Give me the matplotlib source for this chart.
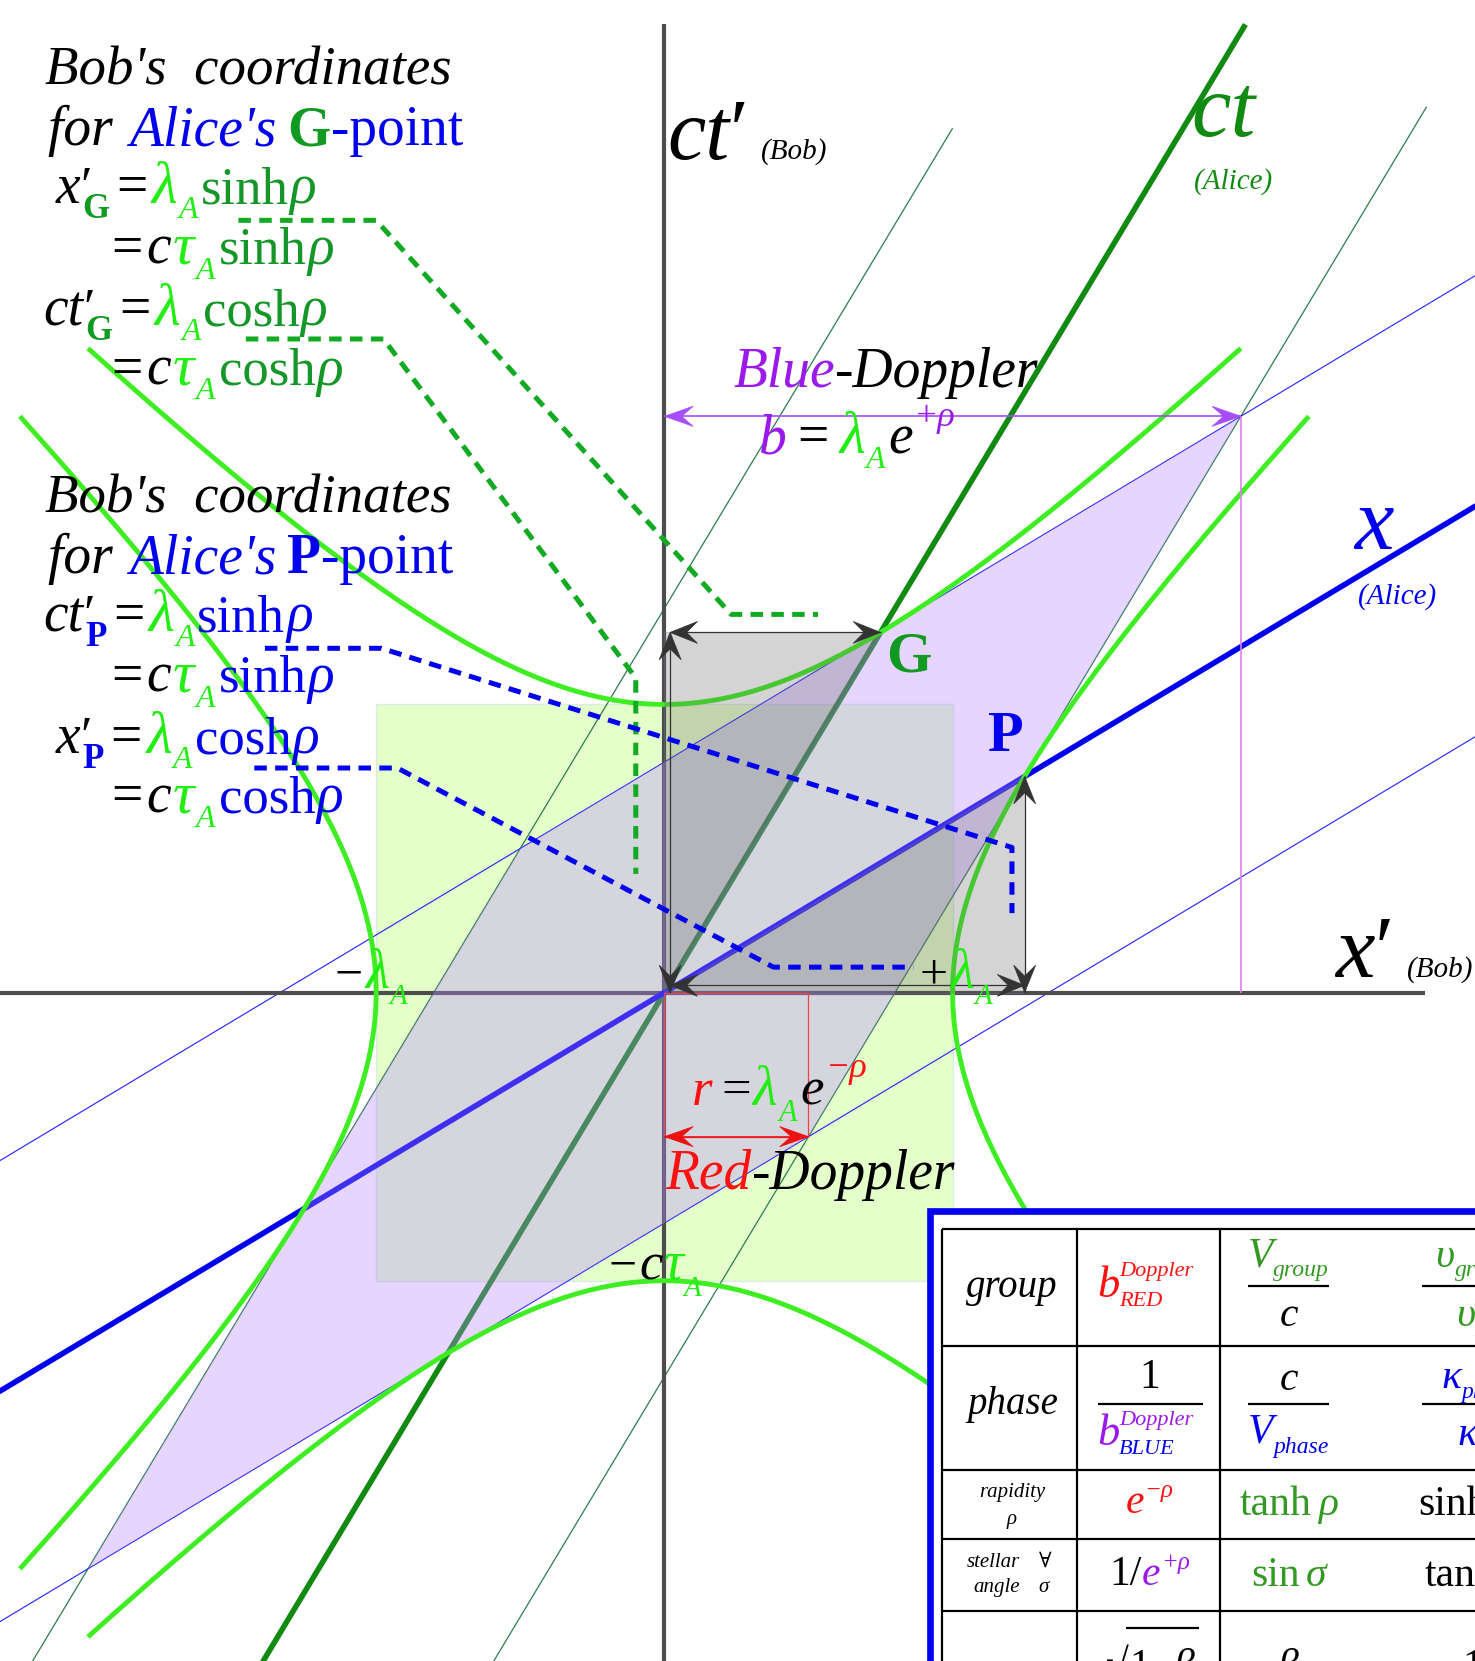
import numpy as np
import matplotlib
matplotlib.use("Agg")
import matplotlib.pyplot as plt
from matplotlib.patches import Polygon, Rectangle

plt.rcParams["lines.scale_dashes"] = False
plt.rcParams["lines.solid_capstyle"] = "butt"

# ---------------- values ----------------
beta = 0.6                       # Alice's speed relative to Bob (v/c)
lambda_A = 1.0                   # Alice's wavelength, c*tau_A
rho = np.arctanh(beta)           # rapidity
gam = np.cosh(rho)
hyperbola_reach = 2.0            # branches stop where the free coordinate reaches 2*lambda_A
alice_grid = [-1.0, 1.0]         # Alice's grid lines x = +-lambda_A, ct = +-lambda_A
world_line_top = [3.0, 1.86]     # Alice time where her x = -lambda_A, +lambda_A lines stop
bob_box = [-1.0, 1.0]            # Bob's +-lambda_A box
axis_top = 3.36                  # top of ct' axis and of Alice's ct axis
axis_right = 2.64                # right end of x' axis


def to_bob(x_a, ct_a):
    """Lorentz boost of Alice's coordinates into Bob's (x', ct')."""
    x_a = np.asarray(x_a, float)
    ct_a = np.asarray(ct_a, float)
    return gam * (x_a + beta * ct_a), gam * (ct_a + beta * x_a)


# ---------------- page layout ----------------
W, H, DPI = 1475, 1661, 100
FW, FH = 1392, 1568               # layout frame
SC = W / FW
OX, OY, UNIT = 627, 937, 272      # diagram origin and lambda_A length in the layout frame

K = "black"
BLUE = "#0000ee"
DKG = "#149628"
BRG = "#22ee11"
GBOLD = "#119922"
ALICE_CT = "#118a11"
HYP = "#3fee22"
PURP = "#9a1aee"
RED = "#ff1111"
TG = "#339922"
THIN_G = "#2e7d4f"
THIN_B = "#2020ff"
BOBAX = "#4d4d4d"
FAM = ["Liberation Serif", "DejaVu Serif"]

fig = plt.figure(figsize=(W / DPI, H / DPI), dpi=DPI)
fig.patch.set_facecolor("white")

ax = fig.add_axes([0, 0, 1, 1])
ax.set_xlim(-OX / UNIT, (FW - OX) / UNIT)
ax.set_ylim((OY - FH) / UNIT, OY / UNIT)
ax.axis("off")
xl0 = ax.get_xlim()[0]
yl0 = ax.get_ylim()[0]

# Bob's lambda_A box
ax.add_patch(Rectangle((bob_box[0], bob_box[0]), bob_box[1] - bob_box[0],
                       bob_box[1] - bob_box[0], fc="#ccff99", alpha=0.5,
                       ec="#c8d8ee", lw=1.0, zorder=1))

# Alice's grid lines
for xa, top in zip(alice_grid, world_line_top):
    bx, by = to_bob(xa, np.array([-10.0, top]))
    ax.plot(bx, by, color=THIN_G, lw=0.9, zorder=2)
for ca in alice_grid:
    bx, by = to_bob(np.array([-10.0, 10.0]), ca)
    ax.plot(bx, by, color=THIN_B, lw=0.8, zorder=2)

# Bob's axes
ax.plot([xl0, axis_right], [0, 0], color=BOBAX, lw=3.0, zorder=3)
ax.plot([0, 0], [yl0, axis_top], color=BOBAX, lw=3.0, zorder=3)

# Alice's axes
bx, by = to_bob(0.0, np.array([-10.0, axis_top / gam]))
ax.plot(bx, by, color=ALICE_CT, lw=4.0, zorder=3)
bx, by = to_bob(np.array([-10.0, 10.0]), 0.0)
ax.plot(bx, by, color=BLUE, lw=4.0, zorder=3)

# Alice's lambda_A square seen by Bob
corners = [to_bob(xa, ca) for xa, ca in [(1, 1), (1, -1), (-1, -1), (-1, 1)]]
ax.add_patch(Polygon(corners, closed=True, fc="#b587ff", alpha=0.35, ec="none", zorder=4))

# invariant hyperbolas x'^2 - ct'^2 = +-lambda_A^2
u = np.linspace(-np.arcsinh(hyperbola_reach), np.arcsinh(hyperbola_reach), 400)
for hx, hy in [(np.cosh(u), np.sinh(u)), (-np.cosh(u), np.sinh(u)),
               (np.sinh(u), np.cosh(u)), (np.sinh(u), -np.cosh(u))]:
    ax.plot(lambda_A * hx, lambda_A * hy, color=HYP, lw=3.5, zorder=5)

# G and P points
G = to_bob(0.0, lambda_A)
P = to_bob(lambda_A, 0.0)
G = (float(G[0]), float(G[1]))
P = (float(P[0]), float(P[1]))
ax.add_patch(Polygon([(0, 0), (0, G[1]), G], closed=True, fc="#606060", alpha=0.27,
                     ec="#7777aa", lw=0.8, zorder=6))
ax.add_patch(Polygon([(0, 0), (P[0], 0), P], closed=True, fc="#606060", alpha=0.27,
                     ec="#7777aa", lw=0.8, zorder=6))


def head(tip, frm, color, L=0.095, hw=0.038, z=8):
    tip = np.asarray(tip, float)
    d = tip - np.asarray(frm, float)
    d = d / np.hypot(*d)
    n = np.array([-d[1], d[0]])
    pts = [tip, tip - L * d + hw * n, tip - 0.6 * L * d, tip - L * d - hw * n]
    ax.add_patch(Polygon(pts, closed=True, fc=color, ec=color, lw=0.5, zorder=z))


def arrow2(p0, p1, color, lw=0.9, z=8, **kw):
    ax.plot([p0[0], p1[0]], [p0[1], p1[1]], color=color, lw=lw, zorder=z)
    head(p1, p0, color, z=z, **kw)
    head(p0, p1, color, z=z, **kw)


off = 0.02
arrow2((off, G[1]), G, "#333333")
arrow2((off, 0.0), (off, G[1]), "#333333")
arrow2((P[0], 0.0), P, "#333333")
arrow2((off, 0.025), (P[0], 0.025), "#333333")

# Doppler factors
b_blue = lambda_A * np.exp(rho)
r_red = lambda_A * np.exp(-rho)
ax.plot([b_blue, b_blue], [0, b_blue], color="#e07fef", lw=1.2, zorder=7)
arrow2((0, b_blue), (b_blue, b_blue), "#a64dff", lw=1.2, L=0.1, hw=0.035)
ax.add_patch(Rectangle((0, -r_red), r_red, r_red, fc="none", ec="#ee4444", lw=0.9, zorder=7))
arrow2((0, -r_red), (r_red, -r_red), "#ee1111", lw=1.2, L=0.1, hw=0.035)

# ---------------- overlay for labels, leaders and table ----------------
ov = fig.add_axes([0, 0, 1, 1], zorder=3)
ov.set_xlim(0, FW)
ov.set_ylim(FH, 0)
ov.axis("off")
ov.patch.set_visible(False)

renderer = fig.canvas.get_renderer()


def T(txt, col=K, size=38, st="i", dy=0, k=0):
    return (txt, col, size, st, dy, k)


def rich(x, y, pieces, ha="left", z=5):
    cx = x
    arts = []
    for txt, col, size, st, dy, k in pieces:
        t = ov.text(cx, y - dy, txt, color=col, fontsize=size,
                    fontstyle="italic" if "i" in st else "normal",
                    fontweight="bold" if "b" in st else "normal",
                    family=FAM, ha="left", va="baseline", zorder=z)
        bb = t.get_window_extent(renderer)
        cx = bb.x1 / SC + k
        arts.append(t)
    if ha == "center":
        shift = (cx - x) / 2
        for t in arts:
            px, py = t.get_position()
            t.set_position((px - shift, py))
    return cx


# leader lines
dash = dict(lw=3.6, dashes=(9, 6), zorder=4)
ov.plot([225, 355, 690, 772], [208, 208, 580, 580], color="#11aa22", **dash)
ov.plot([232, 362, 600, 600], [320, 320, 640, 825], color="#11aa22", **dash)
ov.plot([250, 360, 955, 955], [612, 612, 800, 862], color=BLUE, **dash)
ov.plot([240, 375, 730, 862], [725, 725, 913, 913], color=BLUE, **dash)


def sub_tag(tag, col):
    return T(tag, col, 25, "b", dy=-14, k=6)


def lam_A(k_after=2):
    return [T("λ", BRG, 43, k=1), T("A", BRG, 23, dy=-14, k=k_after)]


def ctau_A():
    return [T("c", K, 40, k=2), T("τ", BRG, 43, k=2), T("A", BRG, 23, dy=-14, k=3)]


# coordinate blocks
for y0, tag, tagc in [(80, "G", GBOLD), (484, "P", BLUE)]:
    fc = DKG if tag == "G" else BLUE
    rich(42, y0, [T("Bob's  coordinates", K, 39.5)])
    rich(45, y0 + 57, [T("for ", K, 40, k=3), T("Alice's", BLUE, 40, k=10),
                       T(tag, tagc, 40, "b"), T("-point", BLUE, 40, "n")])
    xword = [T("x", K, 40), T("′", K, 38, "n", k=-9)]
    ctword = [T("ct", K, 40), T("′", K, 38, "n", k=-9)]
    first, second = (xword, ctword) if tag == "G" else (ctword, xword)
    x1, x2 = (53, 41) if tag == "G" else (41, 53)
    eq = T("=", K, 40, "n", k=4)
    rich(x1, y0 + 112, first + [sub_tag(tag, tagc), eq] + lam_A() +
         [T("sinh", fc, 38, "n", k=1), T("ρ", fc, 40)])
    rich(105, y0 + 169, [T("=", K, 40, "n", k=3)] + ctau_A() +
         [T("sinh", fc, 38, "n", k=1), T("ρ", fc, 40)])
    rich(x2, y0 + 227, second + [sub_tag(tag, tagc), eq] + lam_A() +
         [T("cosh", fc, 38, "n", k=1), T("ρ", fc, 40)])
    rich(105, y0 + 283, [T("=", K, 40, "n", k=3)] + ctau_A() +
         [T("cosh", fc, 38, "n", k=1), T("ρ", fc, 40)])

# axis labels
rich(630, 150, [T("ct", K, 62), T("′", K, 62, "n")])
rich(718, 150, [T("(Bob)", K, 21)])
rich(1124, 128, [T("ct", ALICE_CT, 64)])
rich(1127, 178, [T("(Alice)", ALICE_CT, 21)])
rich(1278, 518, [T("x", BLUE, 64)])
rich(1282, 570, [T("(Alice)", BLUE, 21)])
rich(1260, 922, [T("x", K, 64), T("′", K, 64, "n")])
rich(1328, 922, [T("(Bob)", K, 21)])

# point labels
rich(836, 634, [T("G", GBOLD, 42, "b")])
rich(932, 709, [T("P", BLUE, 42, "b")])

# lambda marks on the axes
rich(316, 933, [T("−", K, 36, "n", k=2), T("λ", BRG, 40), T("A", BRG, 21, dy=-15)])
rich(868, 933, [T("+", K, 36, "n", k=2), T("λ", BRG, 40), T("A", BRG, 21, dy=-15)])
rich(574, 1208, [T("−", K, 36, "n", k=3), T("c", K, 38, k=1), T("τ", BRG, 40),
                 T("A", BRG, 21, dy=-15)])

# Doppler labels
rich(692, 365, [T("Blue", PURP, 40), T("-Doppler", K, 40)])
rich(716, 428, [T("b", PURP, 40, k=10), T("=", K, 40, "n", k=10), T("λ", BRG, 43, k=1),
                T("A", BRG, 23, dy=-14, k=3), T("e", K, 40, k=1),
                T("+ρ", PURP, 26, dy=26)])
rich(653, 1043, [T("r", RED, 38, k=8), T("=", K, 38, "n", k=2), T("λ", BRG, 41, k=1),
                 T("A", BRG, 22, dy=-15, k=3), T("e", K, 38, k=2),
                 T("−ρ", RED, 26, dy=26)])
rich(628, 1122, [T("Red", RED, 40), T("-Doppler", K, 40)])

# ---------------- table ----------------
TZ = 20
ov.add_patch(Rectangle((878, 1143), 700, 600, fc="white", ec=BLUE, lw=4.8, zorder=TZ))
ov.add_patch(Rectangle((889, 1160), 700, 600, fc="none", ec=K, lw=1.6, zorder=TZ + 1))
for ry in [1271, 1388, 1453, 1521]:
    ov.plot([889, 1500], [ry, ry], color=K, lw=1.6, zorder=TZ + 1)
for cx_ in [1016, 1151]:
    ov.plot([cx_, cx_], [1160, 1700], color=K, lw=1.6, zorder=TZ + 1)


def frac_line(x0, x1, y):
    ov.plot([x0, x1], [y, y], color=K, lw=1.6, zorder=TZ + 1)


tz = TZ + 2
# row: group
rich(955, 1224, [T("group", K, 28)], "center", z=tz)
xb = rich(1036, 1224, [T("b", RED, 32)], z=tz)
rich(xb - 1, 1205, [T("Doppler", RED, 16)], z=tz)
rich(xb - 1, 1233, [T("RED", RED, 16)], z=tz)
rich(1216, 1196, [T("V", TG, 30), T("group", TG, 17, dy=-9)], "center", z=tz)
frac_line(1178, 1254, 1214)
rich(1216, 1252, [T("c", K, 30)], "center", z=tz)
rich(1390, 1196, [T("υ", TG, 30), T("group", TG, 17, dy=-9)], "center", z=tz)
frac_line(1342, 1440, 1214)
rich(1390, 1252, [T("υ", TG, 30), T("A", TG, 17, dy=-9)], "center", z=tz)

# row: phase
rich(956, 1335, [T("phase", K, 28)], "center", z=tz)
rich(1085, 1310, [T("1", K, 30, "n")], "center", z=tz)
frac_line(1036, 1135, 1325)
xb = rich(1036, 1364, [T("b", PURP, 32)], z=tz)
rich(xb - 1, 1345, [T("Doppler", PURP, 16)], z=tz)
rich(xb - 1, 1373, [T("BLUE", BLUE, 16)], z=tz)
rich(1216, 1312, [T("c", K, 30)], "center", z=tz)
frac_line(1178, 1254, 1325)
rich(1216, 1362, [T("V", BLUE, 30), T("phase", BLUE, 17, dy=-10)], "center", z=tz)
rich(1396, 1310, [T("κ", BLUE, 30), T("phase", BLUE, 17, dy=-10)], "center", z=tz)
frac_line(1342, 1440, 1325)
rich(1392, 1364, [T("κ", BLUE, 30), T("A", BLUE, 17, dy=-10)], "center", z=tz)

# row: rapidity
rich(955, 1413, [T("rapidity", K, 15)], "center", z=tz)
rich(955, 1439, [T("ρ", K, 15)], "center", z=tz)
rich(1085, 1428, [T("e", RED, 30), T("−ρ", RED, 18, dy=15)], "center", z=tz)
rich(1216, 1430, [T("tanh", TG, 30, "n", k=6), T("ρ", TG, 30)], "center", z=tz)
rich(1338, 1430, [T("sinh", K, 30, "n", k=6), T("ρ", K, 30)], z=tz)

# row: stellar angle
rich(912, 1479, [T("stellar", K, 15)], z=tz)
rich(980, 1479, [T("∀", K, 15, "n")], z=tz)
rich(919, 1503, [T("angle", K, 15)], z=tz)
rich(980, 1503, [T("σ", K, 15)], z=tz)
rich(1085, 1496, [T("1/", K, 30, "n"), T("e", PURP, 30), T("+ρ", PURP, 18, dy=15)],
     "center", z=tz)
rich(1216, 1497, [T("sin", TG, 30, "n", k=6), T("σ", TG, 30)], "center", z=tz)
rich(1344, 1497, [T("tan", K, 30, "n", k=6), T("σ", K, 30)], z=tz)

# row: mu
rich(970, 1588, [T("μ", BLUE, 28)], "center", z=tz)
rich(1044, 1584, [T("√", K, 30, "n")], z=tz)
ov.plot([1063, 1132], [1537, 1537], color=K, lw=1.6, zorder=tz)
rich(1066, 1584, [T("1−", K, 30, "n"), T("β", K, 30)], z=tz)
rich(1216, 1584, [T("β", K, 30)], "center", z=tz)
rich(1380, 1584, [T("1", K, 30, "n")], z=tz)

fig.savefig("out.png", dpi=DPI, facecolor="white")
